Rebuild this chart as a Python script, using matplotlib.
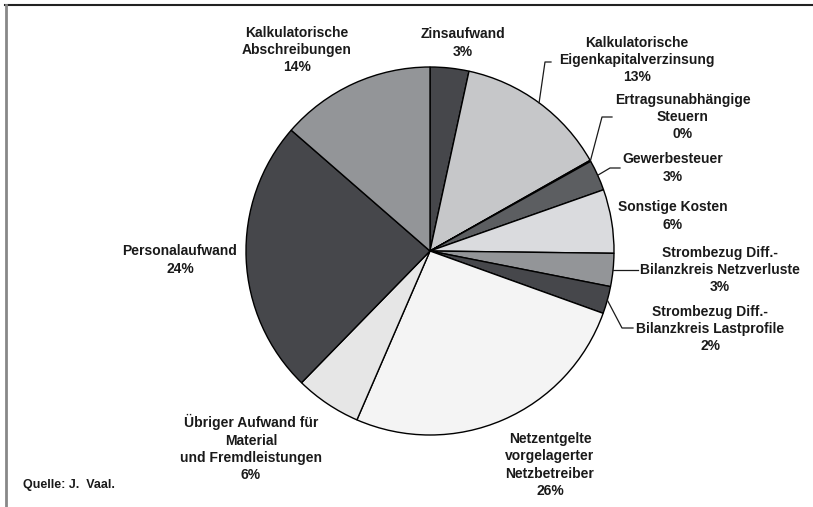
import numpy as np
import matplotlib
matplotlib.use("Agg")
import matplotlib.pyplot as plt
from matplotlib.lines import Line2D

# ---- data ----
categories = [
    "Zinsaufwand",
    "Kalkulatorische\nEigenkapitalverzinsung",
    "Ertragsunabhängige\nSteuern",
    "Gewerbesteuer",
    "Sonstige Kosten",
    "Strombezug Diff.-\nBilanzkreis Netzverluste",
    "Strombezug Diff.-\nBilanzkreis Lastprofile",
    "Netzentgelte\nvorgelagerter\nNetzbetreiber",
    "Übriger Aufwand für\nMaterial\nund Fremdleistungen",
    "Personalaufwand",
    "Kalkulatorische\nAbschreibungen",
]
shares = [3.4, 13.4, 0.1, 2.7, 5.6, 2.9, 2.4, 26.0, 5.8, 24.1, 13.6]
colors = ["#46474b", "#c6c7c9", "#c6c7c9", "#5c5e61", "#dadbde", "#939598",
          "#46474b", "#f4f4f4", "#e6e6e6", "#46474b", "#939598"]
source = "Quelle: J.  Vaal."

# ---- layout (pixel positions of label blocks, leader elbows) ----
W, H = 813, 507
CX, CY, R = 430, 251, 184
label_pos = [(463, 43), (637, 60), (683, 117), (673, 168), (673, 216),
             (720, 270), (710, 329), (550, 465), (251, 448), (180, 260), (297, 50)]
# leader: list of elbow points (pixels) or None
leaders = [None, [(545, 62), (551, 62)], [(602, 117), (612, 117)],
           [(610, 168), (620, 168)], None, "h638", [(622, 328), (633, 328)],
           None, None, None, None]

def px(x, y):
    return (x - CX) / R, (CY - y) / R

plt.rcParams['font.family'] = ['Liberation Sans', 'DejaVu Sans']
fig = plt.figure(figsize=(W / 100, H / 100), dpi=100)
ax = fig.add_axes([0, 0, 1, 1])

wedges, _ = ax.pie(shares, colors=colors, startangle=90, counterclock=False,
                   radius=1.0, center=(0, 0),
                   wedgeprops=dict(edgecolor="black", linewidth=1.0))

ax.set_xlim(-CX / R, (W - CX) / R)
ax.set_ylim((CY - H) / R, CY / R)
ax.set_aspect('equal', adjustable='box')
ax.axis('off')

for cat, v, (lx, ly), ld, w in zip(categories, shares, label_pos, leaders, wedges):
    txt = f"{cat}\n{round(v)}%"
    x, y = px(lx, ly)
    ax.text(x, y, txt, ha='center', va='center', fontsize=10, fontweight='bold',
            color='#1a1a1a', linespacing=1.28)
    if ld is not None:
        ang = np.deg2rad((w.theta1 + w.theta2) / 2)
        sx, sy = np.cos(ang), np.sin(ang)
        if ld == "h638":
            ex, _ = px(638, 0)
            ax.plot([sx, ex], [sy, sy], color='#1a1a1a', lw=0.9)
        else:
            xs = [sx] + [px(a, b)[0] for a, b in ld]
            ys = [sy] + [px(a, b)[1] for a, b in ld]
            ax.plot(xs, ys, color='#1a1a1a', lw=0.9)

sx, sy = px(23, 485)
ax.text(sx, sy, source, ha='left', va='center', fontsize=9, fontweight='bold',
        color='#1a1a1a')

# frame lines (top and left)
fig.add_artist(Line2D([5 / W, 812 / W], [1 - 5 / H, 1 - 5 / H], color='#222222', lw=1.5,
                      transform=fig.transFigure))
fig.add_artist(Line2D([6 / W, 6 / W], [0, 1 - 5 / H], color='#888888', lw=2,
                      transform=fig.transFigure))

fig.savefig("out.png", dpi=100, facecolor='white')
